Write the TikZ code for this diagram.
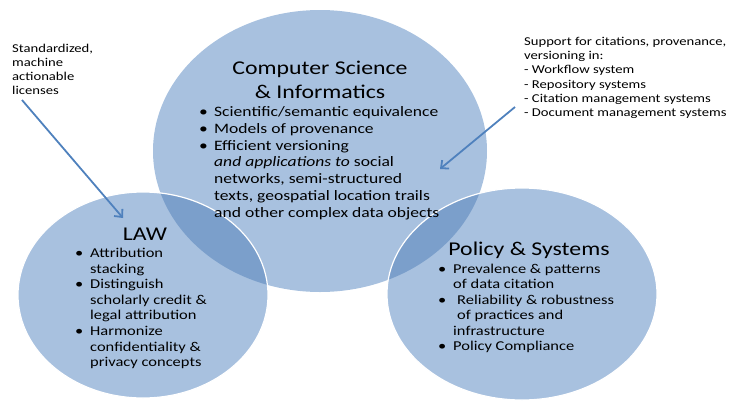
\documentclass[tikz,border=0pt]{standalone}
\usepackage{fontspec}
\setmainfont{Carlito}[FakeStretch=1.22]
\usetikzlibrary{arrows.meta}

\definecolor{venn}{HTML}{A8C1DF}
\definecolor{venndark}{HTML}{7B9FCB}
\definecolor{arrowblue}{HTML}{4F81BD}

\begin{document}
\begin{tikzpicture}[x=1pt, y=-1pt, >={Straight Barb[length=6pt,width=11pt]},
  heading/.style={inner sep=0pt, anchor=base, font=\fontsize{19.5}{24}\selectfont},
  bullets/.style={inner sep=0pt, anchor=base west},
  note/.style={inner sep=0pt, anchor=base west, font=\fontsize{12}{14.2}\selectfont},
  pointer/.style={->, draw=arrowblue, line width=1.8pt},
  rim/.style={draw=white, line width=1.2pt}]
\useasboundingbox (0,0) rectangle (732,400);

% circle centres
\coordinate (cs) at (320,151);
\coordinate (law) at (143,295);
\coordinate (pol) at (522,294);

% the three sets, overlaps darker
\fill[venn] (cs) ellipse [x radius=167pt, y radius=141pt];
\fill[venn] (law) ellipse [x radius=125pt, y radius=103pt];
\fill[venn] (pol) ellipse [x radius=135pt, y radius=106pt];
\begin{scope}
  \clip (cs) ellipse [x radius=167pt, y radius=141pt];
  \fill[venndark] (law) ellipse [x radius=125pt, y radius=103pt];
  \fill[venndark] (pol) ellipse [x radius=135pt, y radius=106pt];
\end{scope}
\draw[rim] (law) ellipse [x radius=125pt, y radius=103pt];
\draw[rim] (pol) ellipse [x radius=135pt, y radius=106pt];

% computer science
\node[heading] (cstitle) at (320,74) {\begin{tabular}[t]{@{}c@{}}Computer Science\\ \& Informatics\end{tabular}};
\node[bullets, font=\fontsize{14.4}{16.8}\selectfont] (cslist) at (199,116.5) {%
\begin{tabular}[t]{@{}p{15pt}@{}l@{}}
• & Scientific/semantic equivalence\\
• & Models of provenance\\
• & Efficient versioning\\
  & \textit{and applications to} social\\
  & networks, semi-structured\\
  & texts, geospatial location trails\\
  & and other complex data objects
\end{tabular}};

% law
\node[heading] (lawtitle) at (145,240) {LAW};
\node[bullets, font=\fontsize{13.5}{15.6}\selectfont] (lawlist) at (75,257.5) {%
\begin{tabular}[t]{@{}p{15pt}@{}l@{}}
• & Attribution\\
  & stacking\\
• & Distinguish\\
  & scholarly credit \&\\
  & legal attribution\\
• & Harmonize\\
  & confidentiality \&\\
  & privacy concepts
\end{tabular}};

% policy
\node[heading] (poltitle) at (529,255) {Policy \& Systems};
\node[bullets, font=\fontsize{13.5}{15.4}\selectfont] (pollist) at (438,273.5) {%
\begin{tabular}[t]{@{}p{15pt}@{}l@{}}
• & Prevalence \& patterns\\
  & of data citation\\
• & \hspace{4pt}Reliability \& robustness\\
  & \hspace{4pt}of practices and\\
  & infrastructure\\
• & Policy Compliance
\end{tabular}};

% side notes
\node[note] (licnote) at (12,52) {\begin{tabular}[t]{@{}l@{}}Standardized,\\ machine\\ actionable\\ licenses\end{tabular}};
\node[note] (supnote) at (524,45.5) {\begin{tabular}[t]{@{}l@{}}Support for citations, provenance,\\ versioning in:\\ - Workflow system\\ - Repository systems\\ - Citation management systems\\ - Document management systems\end{tabular}};

\coordinate (licstart) at (22,100);
\coordinate (lawtip) at (123,218);
\coordinate (supstart) at (515,107);
\coordinate (cstip) at (440,169);
\draw[pointer] (licstart) -- (lawtip);
\draw[pointer] (supstart) -- (cstip);
\end{tikzpicture}
\end{document}
